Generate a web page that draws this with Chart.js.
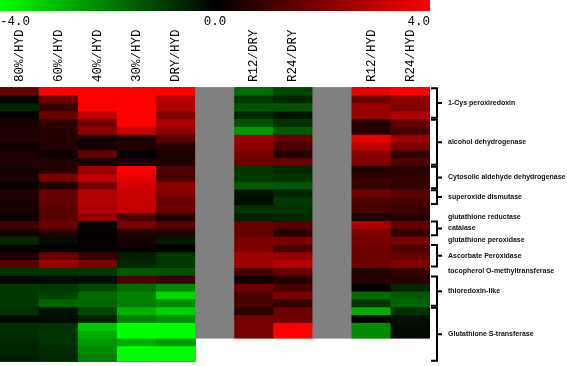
<!DOCTYPE html>
<html>
<head>
<meta charset="utf-8">
<script src="https://cdn.jsdelivr.net/npm/chart.js@4.4.0/dist/chart.umd.min.js"></script>
<style>
  html, body { margin: 0; padding: 0; background: #fff; }
</style>
</head>
<body>
<canvas id="heat" width="567" height="366"></canvas>
<script>
// column labels (empty = grey separator column)
const columns = ["80%/HYD", "60%/HYD", "40%/HYD", "30%/HYD", "DRY/HYD", "", "R12/DRY", "R24/DRY", "", "R12/HYD", "R24/HYD"];

// log ratios, one array per column, top row first
const hyd80 = [1.6, 0.1, -0.6, 0.1, 0.4, 0.4, 0.5, 0.2, 0.4, 0.5, 0.3, 0.4, 0.1, 0.5, 0.4, 0.4, 0.2,
  1.0, 0.3, -0.6, 0, 0.4, 1.4, -0.8, -0.1, -0.9, -0.9, -0.85, -0.8, -0.15, -0.7, -0.7, -0.6, -0.55, -0.45];
const hyd60 = [4, 1.7, 0.9, 1.6, 0.8, 0.6, 0.55, 0.5, 0.2, 0.5, 0.6, 1.9, 0.6, 1.6, 1.6, 1.4, 1.4,
  1.7, 0.6, -0.2, 0, 1.7, 2.4, -0.8, -0.15, -0.9, -1.1, -1.6, -0.3, -0.15, -0.8, -0.85, -0.8, -0.7, -0.6];
const hyd40 = [4, 4, 3.9, 3.0, 1.8, 2.2, 0.4, 0.3, 1.5, 0.3, 2.4, 3.0, 1.8, 2.8, 2.8, 2.7, 2.3,
  0.1, 0.1, 0, 0.1, 0.9, 1.9, -0.9, -0.2, -1.1, -1.7, -1.6, -1.1, -0.5, -3.1, -2.7, -2.4, -2.2, -2.0];
const hyd30 = [4, 4, 4, 4, 4, 3.1, 0.5, 0.5, 0, 0.5, 4, 3.6, 3.3, 3.1, 3.1, 3.0, 1.2,
  1.9, 0.5, 0.3, 0.1, -0.5, -0.6, -1.4, 1.2, -1.7, -2.0, -2.0, -2.8, -2.0, -4, -4, -2.7, -4, -4];
const dryHyd = [4, 2.8, 2.7, 2.0, 2.7, 2.2, 1.4, 0.6, 0.4, 0.5, 1.2, 1.1, 2.2, 2.0, 1.6, 1.7, 0.5,
  1.4, 0.5, -0.4, 0, -0.9, -0.9, -1.3, 0.9, -2.2, -3.4, -2.2, -3.3, -2.2, -4, -4, -2.4, -4, -4];
const r12Dry = [-1.7, -0.9, -1.3, -0.6, -1.3, -2.4, 2.4, 2.2, 1.9, 1.7, -0.8, -0.9, -1.4, -0.3, -0.2, -0.8, -0.5,
  1.6, 1.6, 1.9, 1.9, 2.5, 2.5, 1.1, 0.3, 1.7, 1.1, 1.1, 0.6, 1.9, 1.9, 1.9, null, null, null];
const r24Dry = [-1.1, -0.6, -1.3, -0.3, -0.8, -1.4, 1.6, 1.2, 0.6, 1.6, -0.6, -0.8, -1.3, -0.6, -0.9, -0.8, -0.6,
  1.4, 0.6, 1.9, 1.1, 2.4, 2.8, 1.6, 0.6, 1.1, 1.9, 0.8, 1.7, 1.7, 4, 4, null, null, null];
const r12Hyd = [3.6, 1.7, 2.4, 2.4, 0.6, 0.6, 3.6, 3.0, 2.2, 2.0, 0.6, 0.8, 0.9, 1.7, 1.2, 1.1, 0.5,
  2.7, 2.0, 1.9, 1.7, 1.7, 1.7, 0.5, 0.6, 0.1, -1.7, -0.9, -2.7, 0, -2.2, -2.2, null, null, null];
const r24Hyd = [4, 2.2, 2.0, 2.7, 1.6, 1.1, 2.4, 2.0, 0.8, 1.2, 0.6, 0.8, 0.8, 1.4, 1.1, 0.9, 0.6,
  1.6, 0.8, 1.9, 1.2, 1.6, 2.0, 0.8, 0.6, -0.6, -1.4, -1.6, -0.8, -0.3, -0.2, -0.2, null, null, null];

const colorTicks = [-4, 0, 4];

// gene groups: first and last row of each, bracket or plain label
const geneNames = ["1-Cys peroxiredoxin", "alcohol dehydrogenase", "Cytosolic aldehyde dehydrogenase",
  "superoxide dismutase", "glutathione reductase", "catalase", "glutathione peroxidase",
  "Ascorbate Peroxidase", "tocopherol O-methyltransferase", "thioredoxin-like", "Glutathione S-transferase"];
const geneFrom = [0, 4, 10, 13, 16, 17, 19, 20, 23, 24, 28];
const geneTo = [3, 9, 12, 14, 16, 18, 19, 22, 23, 27, 34];
const geneBracket = [true, true, true, true, false, true, false, true, false, true, true];

const colData = [hyd80, hyd60, hyd40, hyd30, dryHyd, null, r12Dry, r24Dry, null, r12Hyd, r24Hyd];
const nRows = hyd80.length;
const sepRows = r12Dry.filter(v => v !== null).length;

function heatColor(v) {
  const t = Math.min(1, Math.abs(v) / 4);
  const c = Math.round(255 * t);
  return v >= 0 ? `rgb(${c},0,0)` : `rgb(0,${c},0)`;
}

const datasets = [];
for (let r = 0; r < nRows; r++) {
  const data = [], bg = [];
  colData.forEach((col, ci) => {
    if (col === null) {
      data.push(r < sepRows ? 1 : null);
      bg.push("#808080");
    } else {
      data.push(col[r] === null ? null : 1);
      bg.push(col[r] === null ? "#fff" : heatColor(col[r]));
    }
  });
  datasets.push({ data: data, backgroundColor: bg, borderWidth: 0, barPercentage: 1, categoryPercentage: 1 });
}

const decor = {
  id: "decor",
  beforeDatasetsDraw(chart) {
    // dark underlay so that cell seams don't show white
    const { ctx, chartArea, scales: { x, y } } = chart;
    const bw = (chartArea.right - chartArea.left) / columns.length;
    ctx.save();
    colData.forEach((col, ci) => {
      const n = col === null ? sepRows : col.filter(v => v !== null).length;
      ctx.fillStyle = col === null ? "#808080" : "#000";
      const x0 = x.getPixelForValue(ci) - bw / 2;
      ctx.fillRect(x0, y.getPixelForValue(0), bw, y.getPixelForValue(n) - y.getPixelForValue(0));
    });
    ctx.restore();
  },
  afterDraw(chart) {
    const { ctx, chartArea, scales: { x, y } } = chart;
    const left = chartArea.left, right = chartArea.right;
    ctx.save();

    // colour bar
    const grad = ctx.createLinearGradient(left, 0, right, 0);
    grad.addColorStop(0, "rgb(0,255,0)");
    grad.addColorStop(0.5, "rgb(0,0,0)");
    grad.addColorStop(1, "rgb(255,0,0)");
    ctx.fillStyle = grad;
    ctx.fillRect(left, 0, right - left, 11);

    ctx.fillStyle = "#000";
    ctx.font = "12.5px 'Liberation Mono', monospace";
    ctx.textBaseline = "alphabetic";
    colorTicks.forEach((t, i) => {
      const px = left + (t - colorTicks[0]) / (colorTicks[colorTicks.length - 1] - colorTicks[0]) * (right - left);
      ctx.textAlign = i === 0 ? "left" : (i === colorTicks.length - 1 ? "right" : "center");
      ctx.fillText(t.toFixed(1), px, 25);
    });

    // column labels
    columns.forEach((lab, ci) => {
      if (!lab) return;
      ctx.save();
      ctx.translate(x.getPixelForValue(ci), 82);
      ctx.rotate(-Math.PI / 2);
      ctx.textAlign = "left";
      ctx.textBaseline = "middle";
      ctx.fillText(lab, 0, 0);
      ctx.restore();
    });

    // brackets and gene names
    const xv = right + 7;
    ctx.strokeStyle = "#000";
    ctx.lineWidth = 2;
    ctx.font = "bold 7px 'Liberation Sans', Arial, sans-serif";
    ctx.textAlign = "left";
    ctx.textBaseline = "middle";
    geneNames.forEach((name, i) => {
      const yt = y.getPixelForValue(geneFrom[i]) + 1;
      const yb = y.getPixelForValue(geneTo[i] + 1) - 1;
      const ym = (yt + yb) / 2;
      if (geneBracket[i]) {
        ctx.beginPath();
        ctx.moveTo(right + 1, yt);
        ctx.lineTo(xv, yt);
        ctx.lineTo(xv, yb);
        ctx.lineTo(right + 1, yb);
        ctx.moveTo(xv, ym);
        ctx.lineTo(xv + 5, ym);
        ctx.stroke();
      }
      ctx.fillStyle = "#111";
      ctx.fillText(name, xv + 11, ym);
    });
    ctx.restore();
  }
};

new Chart(document.getElementById("heat"), {
  type: "bar",
  data: { labels: columns, datasets: datasets },
  options: {
    responsive: false,
    animation: false,
    layout: { padding: { left: 0, right: 137, top: 87.3, bottom: 4.3 } },
    scales: {
      x: { type: "category", display: false, stacked: true, grid: { display: false } },
      y: { type: "linear", display: false, stacked: true, min: 0, max: nRows, reverse: true, grid: { display: false } }
    },
    plugins: { legend: { display: false }, tooltip: { enabled: false } }
  },
  plugins: [decor]
});
</script>
</body>
</html>
